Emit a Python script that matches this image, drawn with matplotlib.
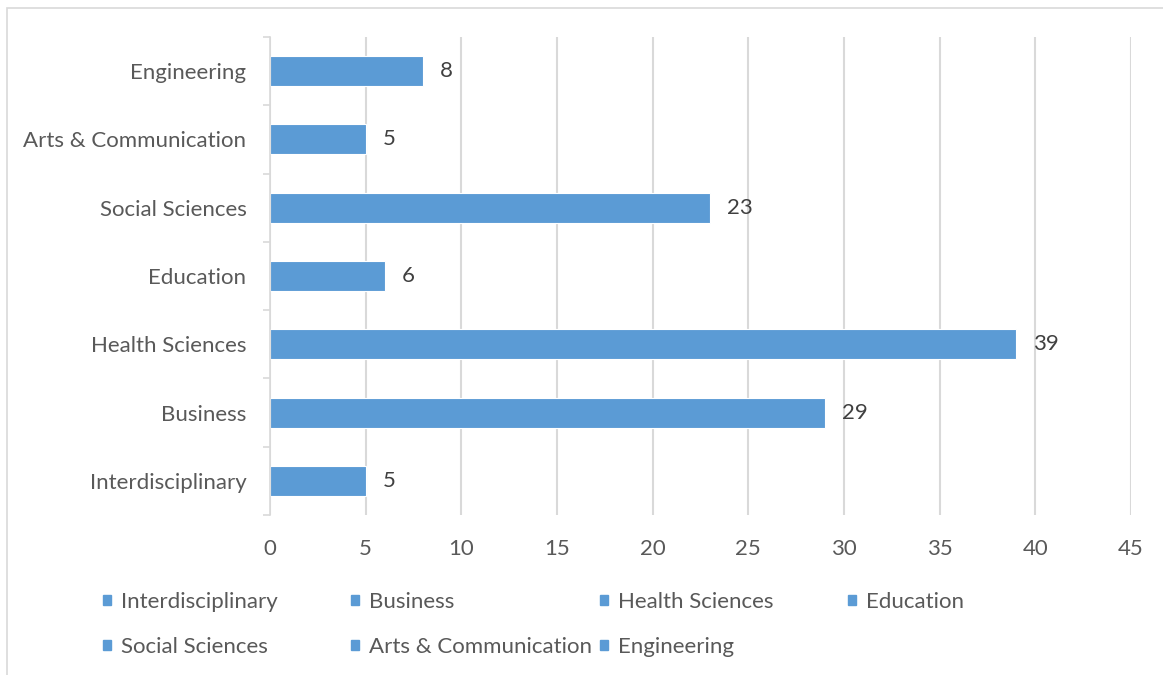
import matplotlib
matplotlib.use("Agg")
from matplotlib import pyplot as plt
from matplotlib.patches import Patch, Rectangle
import numpy as np

# ----------- data ----------
categories = ["Interdisciplinary", "Business", "Health Sciences", "Education",
              "Social Sciences", "Arts & Communication", "Engineering"]
counts = [5, 29, 39, 6, 23, 5, 8]
xticks = [0, 5, 10, 15, 20, 25, 30, 35, 40, 45]


def main():
    bar_color = "#5b9bd5"
    grid_color = "#d9d9d9"
    label_color = "#595959"
    Fontname = "Lato"
    Fontsize = 16

    fig = plt.figure(figsize=(11.63, 6.75), dpi=100)
    ax = fig.add_axes([0.2322, 0.237, 0.7403, 0.7082])

    ypos = np.arange(len(categories))
    ax.barh(ypos, counts, height=0.44, color=bar_color, edgecolor="white",
            linewidth=0.8, zorder=3)
    for y, v in zip(ypos, counts):
        ax.annotate(str(v), (v, y), xytext=(12, 0), textcoords="offset points",
                    va="center", ha="left", fontsize=Fontsize,
                    fontname=Fontname, color="#404040")

    ax.set_xlim(0, 45)
    ax.set_ylim(-0.5, len(categories) - 0.5)
    ax.set_xticks(xticks)
    ax.set_yticks(ypos)
    ax.set_yticklabels(categories)
    ax.set_yticks(np.arange(-0.5, len(categories), 1.0), minor=True)
    ax.tick_params(axis="y", which="major", length=0, pad=17,
                   labelsize=Fontsize, labelcolor=label_color)
    ax.tick_params(axis="y", which="minor", length=5, width=1.2,
                   color=grid_color)
    ax.tick_params(axis="x", length=0, pad=17, labelsize=Fontsize,
                   labelcolor=label_color)
    for lab in ax.get_xticklabels() + ax.get_yticklabels():
        lab.set_fontname(Fontname)

    ax.grid(axis="x", color=grid_color, linewidth=1.5, zorder=0)
    for side in ["top", "right", "bottom"]:
        ax.spines[side].set_visible(False)
    ax.spines["left"].set_color(grid_color)
    ax.spines["left"].set_linewidth(1.2)
    ax.spines["left"].set_zorder(4)

    # legend laid out in Excel-like even columns
    col_x = [0.0886, 0.3022, 0.5158, 0.7294]
    rows = [[0, 4], [1, 5], [2, 6], [3]]
    for cx, idx in zip(col_x, rows):
        handles = [Patch(color=bar_color, label=categories[i]) for i in idx]
        fig.legend(handles=handles, loc="upper left",
                   bbox_to_anchor=(cx, 0.123), frameon=False,
                   handlelength=0.36, handleheight=0.36, handletextpad=0.45,
                   labelspacing=1.12, borderaxespad=0, borderpad=0,
                   prop={"family": Fontname, "size": Fontsize},
                   labelcolor=label_color)

    # chart frame (right and bottom edges cut off in the reference)
    fig.patches.append(Rectangle((7 / 1163, -0.1), 1.2, 1 - 8 / 675 + 0.1,
                                 transform=fig.transFigure, fill=False,
                                 edgecolor=grid_color, linewidth=1.2))

    fig.savefig("out.png", dpi=100)
    plt.close(fig)


if __name__ == '__main__':
    main()
